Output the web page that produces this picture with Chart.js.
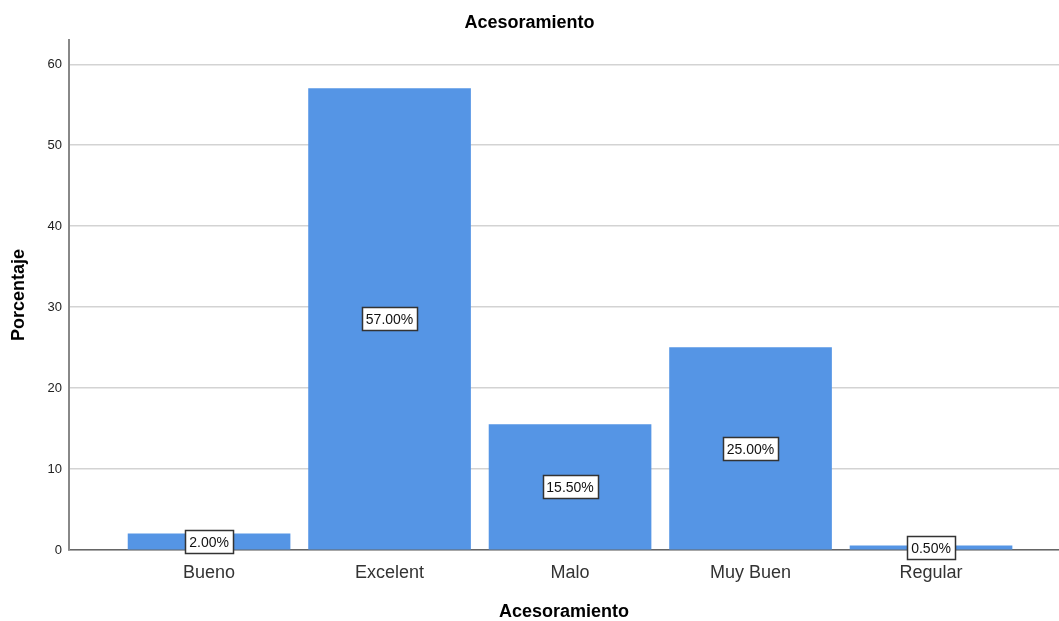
<!DOCTYPE html>
<html lang="es">
<head>
<meta charset="utf-8">
<title>Acesoramiento</title>
<script src="https://cdn.jsdelivr.net/npm/chart.js@4.4.1/dist/chart.umd.min.js"></script>
<style>
  html, body { margin: 0; padding: 0; background: #fff; }
  canvas { display: block; }
</style>
</head>
<body>
<canvas id="chart" width="1059" height="621"></canvas>
<script>
const categories = ['Bueno', 'Excelent', 'Malo', 'Muy Buen', 'Regular'];
const percentages = [2.00, 57.00, 15.50, 25.00, 0.50];
const yTicks = [0, 10, 20, 30, 40, 50, 60];

const FONT = '"Liberation Sans", Arial, sans-serif';

// boxed percentage label in the middle of each bar
const barLabels = {
    id: 'barLabels',
    afterDatasetsDraw(chart) {
        const ctx = chart.ctx;
        const meta = chart.getDatasetMeta(0);
        ctx.save();
        ctx.font = '14px ' + FONT;
        ctx.textAlign = 'center';
        ctx.textBaseline = 'middle';
        meta.data.forEach((bar, i) => {
            const text = percentages[i].toFixed(2) + '%';
            const w = Math.round(ctx.measureText(text).width + 8);
            const h = 23;
            const cx = bar.x;
            const cy = (bar.y + bar.base) / 2;
            const left = Math.round(cx - w / 2) + 0.5;
            const top = Math.round(cy - h / 2) + 0.5;
            ctx.fillStyle = '#fff';
            ctx.fillRect(left, top, w, h);
            ctx.strokeStyle = '#333';
            ctx.lineWidth = 1.5;
            ctx.strokeRect(left, top, w, h);
            ctx.fillStyle = '#111';
            ctx.fillText(text, cx, top + h / 2 + 1);
        });
        ctx.restore();
    }
};

new Chart(document.getElementById('chart'), {
    type: 'bar',
    data: {
        datasets: [{
            data: categories.map((c, i) => ({ x: i, y: percentages[i] })),
            backgroundColor: '#5595e5',
            barThickness: 162
        }]
    },
    options: {
        responsive: false,
        animation: false,
        layout: { padding: 0 },
        plugins: {
            legend: { display: false },
            tooltip: { enabled: false },
            title: {
                display: true,
                text: 'Acesoramiento',
                color: '#000',
                font: { family: FONT, size: 18, weight: 'bold' },
                padding: { top: 12, bottom: 6.4 }
            }
        },
        scales: {
            x: {
                type: 'linear',
                offset: false,
                min: -0.776,
                max: 4.709,
                afterBuildTicks: axis => { axis.ticks = categories.map((c, i) => ({ value: i })); },
                afterFit: axis => { axis.height = 71; },
                grid: { display: false, drawTicks: false },
                border: { display: true, color: '#666', width: 1.5 },
                ticks: {
                    padding: 12,
                    color: '#333',
                    maxRotation: 0,
                    autoSkip: false,
                    font: { family: FONT, size: 18 },
                    callback: v => categories[v]
                },
                title: {
                    display: true,
                    text: 'Acesoramiento',
                    color: '#000',
                    font: { family: FONT, size: 18, weight: 'bold' },
                    padding: { top: 0, bottom: -2 }
                }
            },
            y: {
                min: 0,
                max: 63,
                afterBuildTicks: axis => { axis.ticks = yTicks.map(v => ({ value: v })); },
                afterFit: axis => { axis.width = 69; },
                grid: { color: '#d3d3d3', lineWidth: 1.5, drawTicks: false },
                border: { color: '#888', width: 2 },
                ticks: {
                    padding: 7,
                    color: '#222',
                    font: { family: FONT, size: 13 }
                },
                title: {
                    display: true,
                    text: 'Porcentaje',
                    color: '#000',
                    font: { family: FONT, size: 18, weight: 'bold' },
                    padding: { top: 8, bottom: 0 }
                }
            }
        }
    },
    plugins: [barLabels]
});
</script>
</body>
</html>
